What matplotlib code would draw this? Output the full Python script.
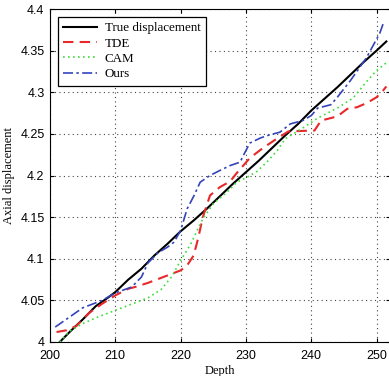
import matplotlib
matplotlib.use('Agg')
import matplotlib.pyplot as plt

# data
true_x = [201.5, 203, 205, 207, 209, 210, 212, 214, 216, 218, 220, 222, 224, 226, 228,
          230, 232, 234, 236, 238, 240, 242, 244, 246, 248, 250, 251.5]
true_y = [4.000, 4.012, 4.027, 4.043, 4.054, 4.060, 4.075, 4.088, 4.104, 4.118, 4.133,
          4.146, 4.160, 4.175, 4.190, 4.204, 4.218, 4.233, 4.248, 4.262, 4.278, 4.292,
          4.306, 4.321, 4.336, 4.350, 4.361]

tde_x = [201, 202.5, 204, 206, 208, 210, 212, 213, 215, 217, 219, 220, 221, 222, 222.7,
         223.4, 224.5, 226, 227.6, 228.6, 230.6, 232.6, 234.5, 236.5, 240.5, 241.5, 244,
         245.5, 247, 248.5, 250, 251, 251.5]
tde_y = [4.012, 4.014, 4.019, 4.035, 4.046, 4.056, 4.064, 4.066, 4.071, 4.077, 4.083,
         4.086, 4.092, 4.104, 4.125, 4.150, 4.176, 4.186, 4.193, 4.203, 4.221, 4.233,
         4.243, 4.253, 4.254, 4.266, 4.271, 4.280, 4.282, 4.287, 4.294, 4.302, 4.307]

cam_x = [201.5, 203, 205, 207, 210, 213, 215, 217, 218.7, 220, 221.5, 223.4, 225, 227.1,
         228.6, 230.2, 231.7, 233.2, 234.8, 236, 238.7, 241, 244, 246.4, 248.5, 250, 251.6]
cam_y = [4.000, 4.013, 4.022, 4.029, 4.038, 4.047, 4.053, 4.063, 4.079, 4.098, 4.117,
         4.148, 4.166, 4.180, 4.192, 4.198, 4.205, 4.216, 4.230, 4.244, 4.257, 4.269,
         4.281, 4.293, 4.313, 4.326, 4.336]

ours_x = [200.8, 203, 205, 208, 210, 212.5, 214, 215, 216.5, 218, 219, 220, 221, 222, 223,
          224.5, 226, 227.6, 229.1, 229.6, 230.6, 232.2, 233.7, 235.2, 236.8, 238.7, 240,
          241, 243, 244, 246, 248.5, 250.5, 251]
ours_y = [4.018, 4.030, 4.041, 4.050, 4.059, 4.066, 4.078, 4.095, 4.107, 4.114, 4.120,
          4.134, 4.160, 4.175, 4.192, 4.200, 4.206, 4.212, 4.216, 4.224, 4.239, 4.245,
          4.249, 4.252, 4.262, 4.266, 4.272, 4.281, 4.285, 4.294, 4.314, 4.342, 4.371, 4.382]

xticks = [200, 210, 220, 230, 240, 250]
yticks = [4.0, 4.05, 4.1, 4.15, 4.2, 4.25, 4.3, 4.35, 4.4]
ytick_labels = ['4', '4.05', '4.1', '4.15', '4.2', '4.25', '4.3', '4.35', '4.4']

fig = plt.figure(figsize=(3.89, 3.76), dpi=100)
ax = fig.add_axes([50 / 389, 34 / 376, 339.6 / 389, 333 / 376])

ax.plot(true_x, true_y, color='black', lw=1.5, label='True displacement')
ax.plot(tde_x, tde_y, color='#e8282a', lw=1.5, ls=(0, (5, 3)), label='TDE')
ax.plot(cam_x, cam_y, color='#3ddc3d', lw=1.2, ls=(0, (1, 2)), label='CAM')
ax.plot(ours_x, ours_y, color='#3344bb', lw=1.2, ls=(0, (6, 2, 1.5, 2)), label='Ours')

ax.set_xlim(200, 252)
ax.set_ylim(4.0, 4.4)
ax.set_xticks(xticks)
ax.set_yticks(yticks)
ax.set_yticklabels(ytick_labels)
ax.tick_params(direction='in', top=True, right=True, length=3, labelsize=9)
ax.tick_params(axis='y', pad=4)
ax.tick_params(axis='x', pad=6)
for lab in ax.get_xticklabels() + ax.get_yticklabels():
    lab.set_family('Liberation Sans')
ax.grid(True, ls=(0, (1, 3)), color='#444444', lw=0.8)

ax.set_xlabel('Depth', family='Liberation Serif', fontsize=9, labelpad=2)
ax.set_ylabel('Axial displacement', family='Liberation Serif', fontsize=9, labelpad=4)

leg = ax.legend(loc='upper left', prop={'family': 'Liberation Serif', 'size': 9.4},
                fancybox=False, edgecolor='black', framealpha=1, handlelength=2.6,
                handletextpad=0.6, borderaxespad=0.6, labelspacing=0.25)
leg.get_frame().set_linewidth(0.9)

fig.savefig('out.png', dpi=100)
